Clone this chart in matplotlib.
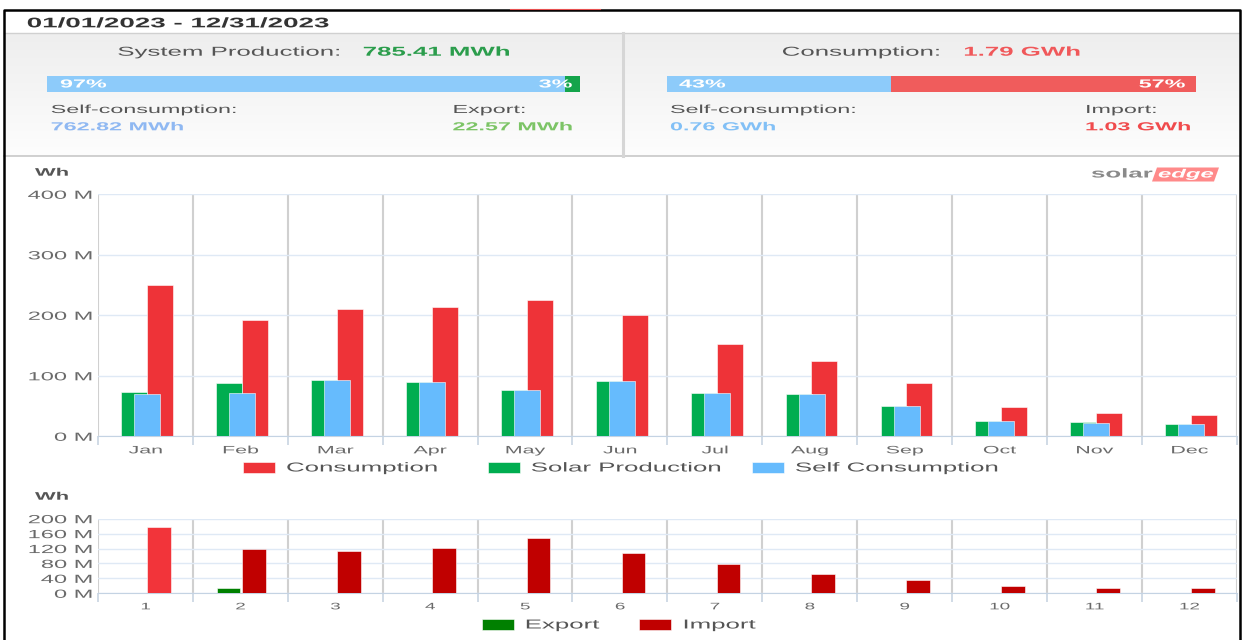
import matplotlib
matplotlib.use("Agg")
import matplotlib.pyplot as plt
import numpy as np
from matplotlib.patheffects import AbstractPathEffect
from matplotlib.transforms import Affine2D
from matplotlib.ticker import FuncFormatter
from matplotlib.colors import to_rgb

plt.rcParams['font.family'] = ['Liberation Sans', 'DejaVu Sans']

# ---- data (MWh) ----
months = ['Jan', 'Feb', 'Mar', 'Apr', 'May', 'Jun', 'Jul', 'Aug', 'Sep', 'Oct', 'Nov', 'Dec']
consumption = [250.0, 192.8, 209.9, 213.2, 225.3, 200.6, 152.1, 124.5, 88.2, 47.9, 38.6, 35.3]
solar_production = [73.8, 87.6, 93.7, 89.3, 77.1, 90.9, 71.1, 69.4, 49.6, 25.3, 23.1, 20.4]
self_consumption = [70.5, 72.2, 93.7, 89.3, 77.1, 90.9, 71.1, 69.4, 49.6, 25.3, 22.0, 20.4]

periods = ['1', '2', '3', '4', '5', '6', '7', '8', '9', '10', '11', '12']
export = [0, 13.4, 0, 0, 0, 0, 0, 0, 0, 0, 0, 0]
imported = [176.8, 119.6, 114.3, 121.4, 147.3, 107.1, 77.7, 52.7, 35.7, 20.5, 13.4, 13.4]

date_range = '01/01/2023 - 12/31/2023'
production_label = '785.41 MWh'
self_cons_mwh = 762.82
export_mwh = 22.57
production_pct = [97, 3]
consumption_label = '1.79 GWh'
self_cons_gwh = 0.76
import_gwh = 1.03
consumption_pct = [43, 57]

W, H = 1246, 640
red, green, blue = '#ee3338', '#00ad50', '#66bbfd'
export_green, import_red, import_hl = '#008000', '#c00000', '#f2343a'


class Stretch(AbstractPathEffect):
    """the screenshot is squeezed about 2:1, so widen the glyphs"""

    def __init__(self, sx=2.0, anchor=0.0):
        super().__init__()
        self.sx = sx
        self.anchor = anchor

    def draw_path(self, renderer, gc, tpath, affine, rgbFace=None):
        xs = tpath.vertices[:, 0]
        x0 = 0.0
        if self.anchor and len(xs):
            x0 = xs.min() + (xs.max() - xs.min()) * self.anchor
        t = Affine2D().translate(-x0, 0).scale(self.sx, 1.0).translate(x0, 0) + affine
        renderer.draw_path(gc, tpath, t, rgbFace)


def rect(x0, y0, x1, y1):
    return [x0 / W, 1 - y1 / H, (x1 - x0) / W, (y1 - y0) / H]


fig = plt.figure(figsize=(W / 100, H / 100), dpi=100)

# background layer in pixel coordinates
bg = fig.add_axes([0, 0, 1, 1])
bg.axis('off')

top_c, bot_c = np.array(to_rgb('#eeeeee')), np.array(to_rgb('#fdfdfd'))
grad = np.linspace(0, 1, 64)[:, None, None] * (bot_c - top_c) + top_c
bg.imshow(np.repeat(grad, 2, axis=1), extent=[4, 1239, 155.7, 33.3], aspect='auto', zorder=0)
bg.set_xlim(0, W)
bg.set_ylim(H, 0)

bg.plot([4, 1239], [33.3, 33.3], color='#d0d0d0', lw=1)
bg.plot([4, 1239], [155.7, 155.7], color='#c8c8c8', lw=1.2)
bg.plot([623, 623], [33.3, 155.7], color='#d6d6d6', lw=2.2)
bg.plot([3.5, 3.5, 1239.5, 1239.5], [640, 10, 10, 640], color='black', lw=1.8)
bg.plot([510, 600], [9.0, 9.0], color='#e85050', lw=0.8)


def put(x, y, s, size, color, weight='normal', ha='left', **kw):
    # figure level text, x/y in pixels from the top left
    anchor = {'left': 0.0, 'center': 0.5, 'right': 1.0}[ha]
    fig.text(x / W, 1 - y / H, s, fontsize=size, color=color, fontweight=weight, ha=ha,
             va='center', path_effects=[Stretch(2.0, anchor)], **kw)


put(26.7, 23.3, date_range, 10, '#333333', 'bold')

put(117.3, 52.7, 'System Production:', 9.3, '#555555')
put(362.7, 52.7, production_label, 9.3, '#2b9d4c', 'bold')
put(50.7, 110, 'Self-consumption:', 8.4, '#555555')
put(50.7, 127.3, f'{self_cons_mwh:.2f} MWh', 8.4, '#8fb8f2', 'bold')
put(452.5, 110, 'Export:', 8.4, '#555555')
put(452.5, 127.3, f'{export_mwh:.2f} MWh', 8.4, '#7cc466', 'bold')

put(781.7, 52.7, 'Consumption:', 9.3, '#555555')
put(963.3, 52.7, consumption_label, 9.3, '#f0585a', 'bold')
put(670, 110, 'Self-consumption:', 8.4, '#555555')
put(670, 127.3, f'{self_cons_gwh:.2f} GWh', 8.4, '#82c0f6', 'bold')
put(1085, 110, 'Import:', 8.4, '#555555')
put(1085, 127.3, f'{import_gwh:.2f} GWh', 8.4, '#f04a4c', 'bold')

# progress bars
pb1 = fig.add_axes(rect(46.6, 76, 580, 92.3))
pb1.barh(0, self_cons_mwh, height=1, color='#8dcbfa')
pb1.barh(0, export_mwh, left=self_cons_mwh, height=1, color='#14a44b')
pb1.set_xlim(0, self_cons_mwh + export_mwh)
pb1.set_ylim(-0.5, 0.5)
pb1.axis('off')

pb2 = fig.add_axes(rect(666.7, 76, 1195.7, 92.3))
pb2.barh(0, self_cons_gwh, height=1, color='#8dcbfa')
pb2.barh(0, import_gwh, left=self_cons_gwh, height=1, color='#f05c5c')
pb2.set_xlim(0, self_cons_gwh + import_gwh)
pb2.set_ylim(-0.5, 0.5)
pb2.axis('off')

put(60, 84.5, f'{production_pct[0]}%', 8.4, 'white', 'bold')
put(572, 84.5, f'{production_pct[1]}%', 8.4, 'white', 'bold', ha='right')
put(679, 84.5, f'{consumption_pct[0]}%', 8.4, 'white', 'bold')
put(1185, 84.5, f'{consumption_pct[1]}%', 8.4, 'white', 'bold', ha='right')

# solaredge logo
put(1091, 174.5, 'solar', 9.3, '#8a8a8a', 'bold')
bg.fill([1152, 1157, 1219, 1214], [181.5, 167.5, 167.5, 181.5], color='#ff8a8a', lw=0)
put(1158, 174.5, 'edge', 8.6, 'white', 'bold', style='italic')

put(35, 172.7, 'Wh', 7.9, '#555555', 'bold')
put(35, 496.7, 'Wh', 7.9, '#555555', 'bold')


def style_axis(ax, ymax, ystep, xlabels, xlabel_size, xpad):
    x = np.arange(12)
    ax.set_xlim(-0.5, 11.5)
    ax.set_ylim(0, ymax)
    ax.set_yticks(np.arange(0, ymax + 1, ystep))
    ax.yaxis.set_major_formatter(FuncFormatter(lambda v, p: f'{v:.0f} M'))
    ax.set_xticks(x, xlabels)
    ax.set_xticks(np.arange(-0.5, 12, 1), minor=True)
    ax.grid(axis='y', color='#dfe9f5', lw=1)
    ax.grid(axis='x', which='minor', color='#d0d0d0', lw=1.5)
    ax.set_axisbelow(True)
    for s in ['top', 'right', 'left']:
        ax.spines[s].set_visible(False)
    ax.spines['bottom'].set_color('#c4d3e3')
    ax.tick_params(axis='x', which='major', length=0, pad=xpad, labelsize=xlabel_size,
                   labelcolor='#6a6a6a')
    ax.tick_params(axis='x', which='minor', length=6.5, width=1.2, color='#c8d4e2')
    ax.tick_params(axis='y', length=0, pad=4, labelsize=8.5, labelcolor='#6a6a6a')
    for lab in ax.get_yticklabels():
        lab.set_path_effects([Stretch(2.0, 1.0)])
    for lab in ax.get_xticklabels():
        lab.set_path_effects([Stretch(2.0, 0.5)])


# monthly energy chart
ax = fig.add_axes(rect(98, 194.3, 1236.7, 436.3))
x = np.arange(12)
b_cons = ax.bar(x + 0.156, consumption, 0.274, color=red, edgecolor='white', lw=0.4, zorder=2)
b_prod = ax.bar(x - 0.116, solar_production, 0.274, color=green, edgecolor='white', lw=0.4, zorder=3)
b_self = ax.bar(x + 0.021, self_consumption, 0.274, color=blue, edgecolor='white', lw=0.4, zorder=4)
style_axis(ax, 400, 100, months, 7.7, 6.5)

leg = ax.legend([b_cons, b_prod, b_self], ['Consumption', 'Solar Production', 'Self Consumption'],
                loc='center left', bbox_to_anchor=(243 / W, 1 - 468 / H), bbox_transform=fig.transFigure,
                ncol=3, frameon=False, fontsize=9.3, handlelength=2.48, handleheight=0.93,
                handletextpad=0.85, columnspacing=9.75, borderpad=0, borderaxespad=0)
for t in leg.get_texts():
    t.set_color('#555555')
    t.set_path_effects([Stretch(2.0, 0)])

# export / import chart
ax2 = fig.add_axes(rect(98, 518.7, 1236.7, 593.3))
b_exp = ax2.bar(x - 0.125, export, 0.25, color=export_green, edgecolor='white', lw=0.4, zorder=3)
imp_colors = [import_hl] + [import_red] * 11
b_imp = ax2.bar(x + 0.143, imported, 0.25, color=imp_colors, edgecolor='white', lw=0.4, zorder=3)
style_axis(ax2, 200, 40, periods, 6.8, 6.5)

leg2 = ax2.legend([b_exp, b_imp], ['Export', 'Import'], loc='center left',
                  bbox_to_anchor=(481.7 / W, 1 - 625 / H), bbox_transform=fig.transFigure,
                  ncol=2, frameon=False, fontsize=9.3, handlelength=2.48, handleheight=0.93,
                  handletextpad=0.85, columnspacing=6.0, borderpad=0, borderaxespad=0)
leg2.legend_handles[1].set_facecolor(import_red)
for t in leg2.get_texts():
    t.set_color('#555555')
    t.set_path_effects([Stretch(2.0, 0)])

fig.savefig('out.png', dpi=100)
